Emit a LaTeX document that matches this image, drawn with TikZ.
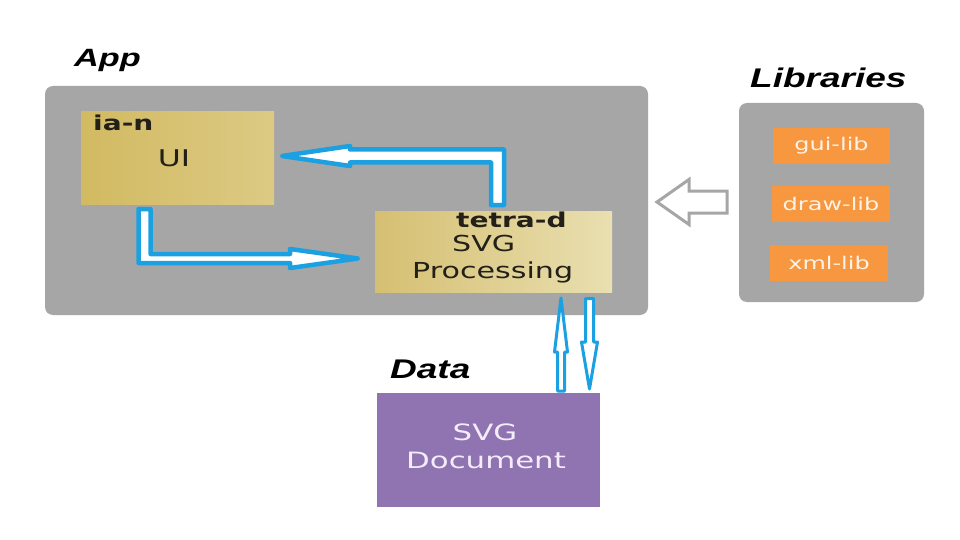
\documentclass[tikz,border=0pt]{standalone}
\usepackage{fontspec}
\newfontfamily\vfont[FakeStretch=1.37]{DejaVu Sans}
\newfontfamily\afont[FakeStretch=1.37]{Liberation Sans}
\definecolor{panelgray}{RGB}{166,166,166}
\definecolor{liborange}{RGB}{247,151,63}
\definecolor{docpurple}{RGB}{143,116,177}
\definecolor{flowblue}{RGB}{27,161,226}
\definecolor{uiL}{RGB}{210,186,98}
\definecolor{uiR}{RGB}{220,202,132}
\definecolor{procL}{RGB}{213,191,114}
\definecolor{procR}{RGB}{233,223,176}
\definecolor{textdark}{RGB}{34,32,24}
\definecolor{libtext}{RGB}{255,243,232}
\definecolor{doctext}{RGB}{244,236,250}
\begin{document}
\begin{tikzpicture}[x=1pt,y=-1pt,
  box/.style={inner sep=0pt, outer sep=0pt, anchor=north west},
  panel/.style={box, fill=panelgray, rounded corners=8pt},
  libbox/.style={box, fill=liborange},
  title/.style={inner sep=0pt, anchor=base west, font=\afont\bfseries\itshape},
  tag/.style={inner sep=0pt, anchor=base west, text=textdark, font=\vfont\bfseries\fontsize{20.5}{24}\selectfont},
  body/.style={inner sep=0pt, text=textdark, font=\vfont\fontsize{22}{26}\selectfont},
  libtxt/.style={inner sep=0pt, text=libtext, font=\vfont\fontsize{17.5}{21}\selectfont},
  doctxt/.style={inner sep=0pt, anchor=base, text=doctext, font=\vfont\fontsize{22.5}{27}\selectfont},
  flow/.style={draw=flowblue, line width=4.5pt, fill=white, line join=round},
  thinflow/.style={draw=flowblue, line width=3pt, fill=white, line join=round},
  uses/.style={draw=panelgray, line width=3pt, fill=white, line join=miter}
]
\useasboundingbox (0,0) rectangle (960,540);
\fill[white] (0,0) rectangle (960,540);

% panels
\node[panel, minimum width=603pt, minimum height=229pt] (app) at (45,86) {};
\node[panel, minimum width=185pt, minimum height=199pt] (libs) at (739,103) {};

% titles
\node[title, font=\afont\bfseries\itshape\fontsize{25}{30}\selectfont] (applbl) at (74,67) {App};
\node[title, font=\afont\bfseries\itshape\fontsize{27}{32}\selectfont] (liblbl) at (750,88) {Libraries};
\node[title, font=\afont\bfseries\itshape\fontsize{27}{32}\selectfont] (datalbl) at (390,378) {Data};

% library boxes
\node[libbox, minimum width=117pt, minimum height=36pt] (gui) at (773,128) {};
\node[libbox, minimum width=118pt, minimum height=36pt] (draw) at (772,186) {};
\node[libbox, minimum width=118pt, minimum height=36pt] (xml) at (770,245) {};
\node[libtxt] (guit) at (gui.center) {gui-lib};
\node[libtxt] (drawt) at (draw.center) {draw-lib};
\node[libtxt] (xmlt) at (xml.center) {xml-lib};

% UI box
\node[box, left color=uiL, right color=uiR, minimum width=193pt, minimum height=92pt] (ui) at (81,112) {};
\node[tag] (ian) at (93,131) {ia-n};
\node[body, anchor=base, font=\vfont\fontsize{23}{27}\selectfont] (uit) at (174,167) {UI};

% SVG processing box
\node[box, left color=procL, right color=procR, minimum width=237pt, minimum height=81pt] (proc) at (375,211) {};
\node[tag] (tetra) at (456,227) {tetra-d};
\node[body, anchor=base west] (svgp) at (452,251) {SVG};
\node[body, anchor=base west] (procp) at (412,278) {Processing};

% SVG document box
\node[box, fill=docpurple, minimum width=223pt, minimum height=114pt] (doc) at (377,393) {};
\node[doctxt] (docsvg) at (485,440) {SVG};
\node[doctxt] (docdoc) at (486,468) {Document};

% flow: SVG processing -> UI
\draw[flow] (491,205) -- (491,162.5) -- (350,162.5) -- (350,166) -- (282,156)
  -- (350,146) -- (350,149.5) -- (504,149.5) -- (504,205) -- cycle;
% flow: UI -> SVG processing
\draw[flow] (138.5,209) -- (138.5,263) -- (290,263) -- (290,268) -- (358,258.5)
  -- (290,249) -- (290,254) -- (150.5,254) -- (150.5,209) -- cycle;
% document -> processing (up)
\draw[thinflow] (557.5,391) -- (557.5,352) -- (554.5,352) -- (561,298)
  -- (567.5,352) -- (564.5,352) -- (564.5,391) -- cycle;
% processing -> document (down)
\draw[thinflow] (585.5,298.5) -- (585.5,342) -- (581.5,342) -- (589.5,389)
  -- (597.5,342) -- (593.5,342) -- (593.5,298.5) -- cycle;
% libraries -> app
\draw[uses] (657,202) -- (689,179.5) -- (689,191) -- (727,191) -- (727,213)
  -- (689,213) -- (689,224.5) -- cycle;
\end{tikzpicture}
\end{document}
